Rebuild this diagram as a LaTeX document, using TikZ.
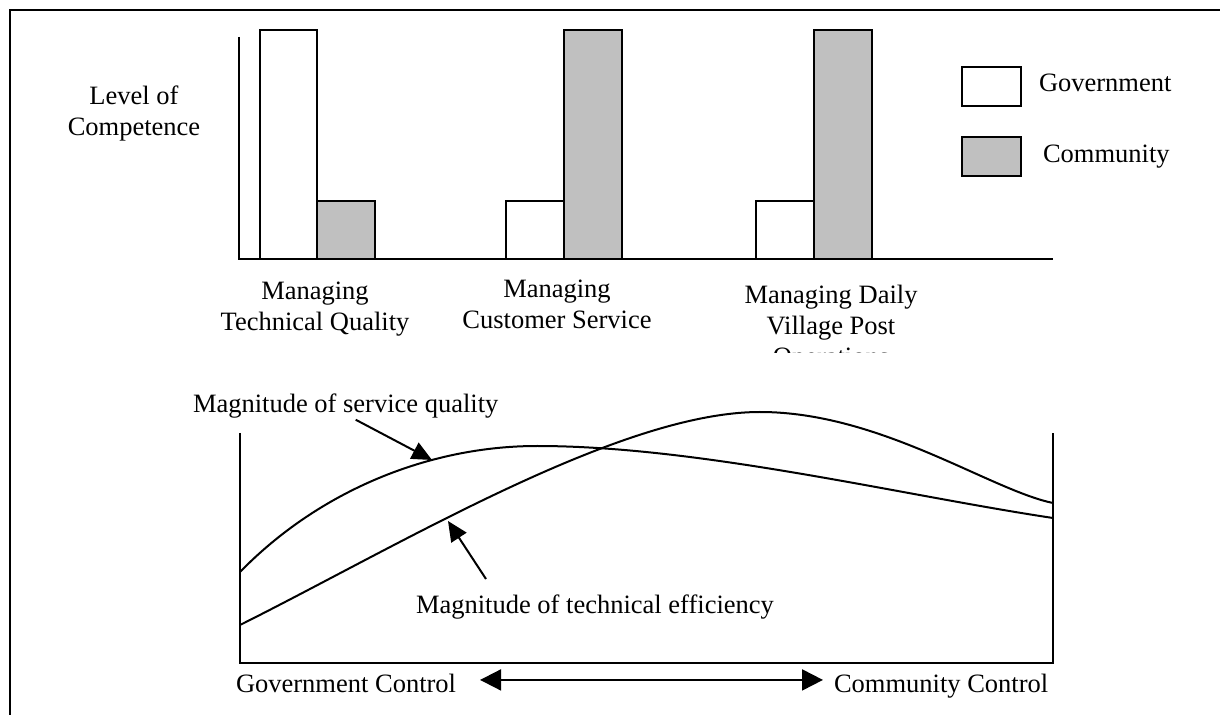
\documentclass[tikz,border=0pt]{standalone}
\usepackage{fontspec}
\setmainfont{Liberation Serif}
\usetikzlibrary{arrows.meta}
\definecolor{barfill}{RGB}{192,192,192}

\begin{document}
\begin{tikzpicture}[x=0.5pt,y=-0.5pt,line width=1pt,
    lbl/.style={inner sep=0pt,font=\fontsize{13.25}{15.5}\selectfont},
    gov/.style={draw,fill=white},
    com/.style={draw,fill=barfill},
    pointer/.style={-{Triangle[length=10pt,width=9pt]}},
    span/.style={{Triangle[length=10.5pt,width=10.5pt]}-{Triangle[length=10.5pt,width=10.5pt]}}]

  \useasboundingbox (0,0) rectangle (1220,715);
  \draw (10,715) -- (10,10) -- (1220,10);

  % bar chart
  \draw (239,37) -- (239,259) -- (1053,259);
  \draw[gov] (260,259) rectangle (317,30);
  \draw[com] (317,259) rectangle (375,201);
  \draw[gov] (506,259) rectangle (564,201);
  \draw[com] (564,259) rectangle (622,30);
  \draw[gov] (756,259) rectangle (814,201);
  \draw[com] (814,259) rectangle (872,30);

  \node[lbl,align=center,anchor=north] (level) at (134,85) {Level of\\Competence};

  \draw[gov] (962,67) rectangle (1021,106);
  \draw[com] (962,137) rectangle (1021,176);
  \node[lbl,anchor=base west] (govkey) at (1038,92) {Government};
  \node[lbl,anchor=base west] (comkey) at (1042,163) {Community};

  \node[lbl,align=center,anchor=north] (tech) at (315,281) {Managing\\Technical Quality};
  \node[lbl,align=center,anchor=north] (cust) at (557,279) {Managing\\Customer Service};
  \begin{scope}
    \clip (700,255) rectangle (960,353);
    \node[lbl,align=center,anchor=north] (daily) at (831,284) {Managing Daily\\Village Post\\Operations};
  \end{scope}

  % control curves
  \draw (240,433) -- (240,663) -- (1053,663) -- (1053,433);
  \draw (240,572) .. controls (320,490) and (430,446) .. (537,446)
        .. controls (700,446) and (900,495) .. (1053,518);
  \draw (240,625) .. controls (400,545) and (620,412) .. (760,412)
        .. controls (880,412) and (990,490) .. (1053,503);

  \node[lbl,anchor=base west] (sq) at (192,413) {Magnitude of service quality};
  \node[lbl,anchor=base west] (te) at (415,613) {Magnitude of technical efficiency};
  \coordinate (sqtip) at (432,460);
  \coordinate (tefoot) at (486,579);
  \coordinate (tetip) at (448,521);
  \draw[pointer] ([xshift=5pt]sq.south) -- (sqtip);
  \draw[pointer] (tefoot) -- (tetip);

  \node[lbl,anchor=base west] (gc) at (235,692) {Government Control};
  \node[lbl,anchor=base west] (cc) at (833,692) {Community Control};
  \draw[span] ([shift={(11.5pt,1.5pt)}]gc.east) -- ([shift={(-5pt,1.5pt)}]gc.east -| cc.west);
\end{tikzpicture}
\end{document}
